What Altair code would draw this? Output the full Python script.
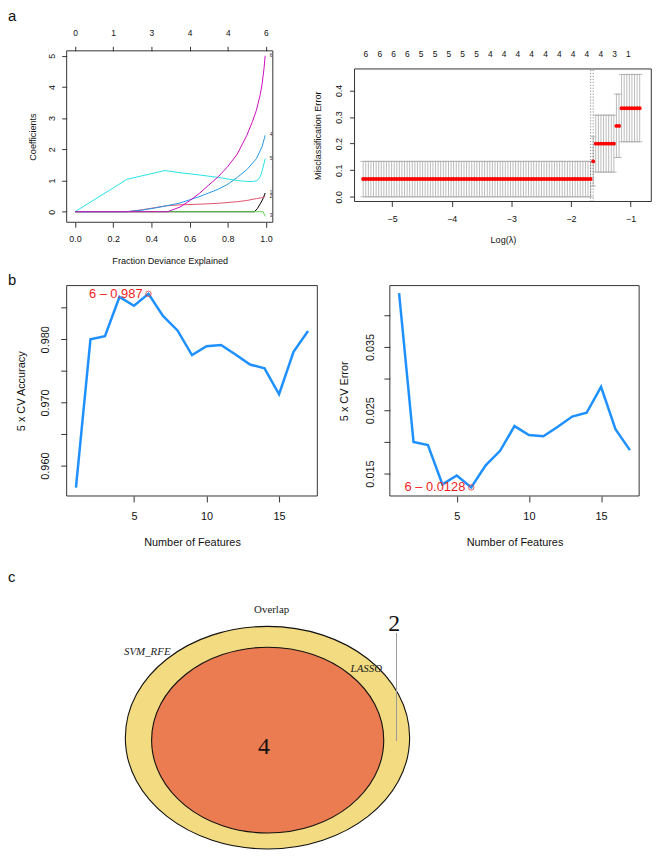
import json
import altair as alt
import pandas as pd

FONT = "Liberation Sans"
SERIF = "Liberation Serif"
W, H = 651, 847

# ---------------- panel a (left): LASSO coefficient paths ----------------
path_ids = ["1", "2", "3", "4", "5", "6"]
path_colors = ["#000000", "#DF536B", "#61D04F", "#2297E6", "#28E2E5", "#CD0BBC"]
path_x = [
    [0, 0.94, 0.955, 0.97, 0.985, 0.996],
    [0, 0.27, 0.35, 0.42, 0.48, 0.55, 0.65, 0.75, 0.85, 0.90, 0.95, 0.98, 0.996],
    [0, 0.985, 0.996],
    [0, 0.27, 0.35, 0.42, 0.48, 0.55, 0.60, 0.65, 0.70, 0.75, 0.80, 0.85, 0.90, 0.95, 0.98, 0.996],
    [0, 0.10, 0.20, 0.273, 0.35, 0.472, 0.55, 0.65, 0.75, 0.85, 0.90, 0.935, 0.955, 0.97, 0.98, 0.99, 0.996],
    [0, 0.485, 0.55, 0.60, 0.65, 0.70, 0.75, 0.80, 0.85, 0.90, 0.93, 0.95, 0.97, 0.98, 0.99, 0.996],
]
path_y = [
    [0, 0, 0.10, 0.25, 0.42, 0.60],
    [0, 0, 0.06, 0.13, 0.19, 0.22, 0.24, 0.27, 0.32, 0.36, 0.42, 0.45, 0.48],
    [0, 0, -0.15],
    [0, 0, 0.05, 0.12, 0.19, 0.28, 0.38, 0.48, 0.60, 0.72, 0.88, 1.10, 1.35, 1.70, 2.09, 2.45],
    [0, 0.38, 0.76, 1.04, 1.15, 1.32, 1.25, 1.18, 1.10, 1.00, 0.97, 0.97, 1.00, 1.12, 1.30, 1.55, 1.70],
    [0, 0, 0.15, 0.35, 0.58, 0.85, 1.12, 1.45, 1.85, 2.45, 2.90, 3.25, 3.75, 4.10, 4.60, 5.00],
]
a1_top_pos = [0.0, 0.2, 0.4, 0.6, 0.8, 1.0]
a1_top_lab = ["0", "1", "3", "4", "4", "6"]

# ---------------- panel a (right): cross-validated misclassification ----------------
cv_loglam = [
    -5.485, -5.442, -5.398, -5.355, -5.312, -5.268, -5.225, -5.182, -5.138, -5.095,
    -5.052, -5.008, -4.965, -4.921, -4.878, -4.835, -4.791, -4.748, -4.705, -4.661,
    -4.618, -4.575, -4.531, -4.488, -4.445, -4.401, -4.358, -4.315, -4.271, -4.228,
    -4.185, -4.141, -4.098, -4.054, -4.011, -3.968, -3.924, -3.881, -3.838, -3.794,
    -3.751, -3.708, -3.664, -3.621, -3.578, -3.534, -3.491, -3.448, -3.404, -3.361,
    -3.318, -3.274, -3.231, -3.187, -3.144, -3.101, -3.057, -3.014, -2.971, -2.927,
    -2.884, -2.841, -2.797, -2.754, -2.711, -2.667, -2.624, -2.581, -2.537, -2.494,
    -2.451, -2.407, -2.364, -2.320, -2.277, -2.234, -2.190, -2.147, -2.104, -2.060,
    -2.017, -1.974, -1.930, -1.887, -1.844, -1.800, -1.757, -1.714, -1.670, -1.627,
    -1.584, -1.540, -1.497, -1.453, -1.410, -1.367, -1.323, -1.280, -1.237, -1.193,
    -1.150, -1.107, -1.063, -1.020, -0.977, -0.933, -0.890, -0.847,
]
cv_err = [0.0667] * 89 + [0.1333] + [0.2] * 8 + [0.2667] * 2 + [0.3333] * 8
cv_up = [0.1333] * 89 + [0.226] + [0.307] * 8 + [0.386] * 2 + [0.46] * 8
cv_lo = [0.0] * 89 + [0.041] + [0.093] * 8 + [0.148] * 2 + [0.207] * 8
cv_lambda_lines = [-1.670, -1.627]
a2_top_pos = [-5.447, -5.215, -4.984, -4.752, -4.520, -4.289, -4.057, -3.825, -3.593, -3.362,
              -3.130, -2.898, -2.667, -2.435, -2.203, -1.972, -1.740, -1.508, -1.277, -1.045]
a2_top_lab = ["6", "6", "6", "6", "5", "5", "5", "5", "5", "4",
              "4", "4", "4", "4", "4", "4", "4", "4", "3", "1"]

# ---------------- panel b: SVM-RFE ----------------
n_features = [1, 2, 3, 4, 5, 6, 7, 8, 9, 10, 11, 12, 13, 14, 15, 16, 17]
cv_accuracy = [0.9565, 0.9800, 0.9805, 0.9867, 0.9853, 0.9872, 0.9837, 0.9814, 0.9775,
               0.9789, 0.9791, 0.9776, 0.9760, 0.9754, 0.9713, 0.9780, 0.9813]
cv_error = [0.0435, 0.0200, 0.0195, 0.0133, 0.0147, 0.0128, 0.0163, 0.0186, 0.0225,
            0.0211, 0.0209, 0.0224, 0.0240, 0.0246, 0.0287, 0.0220, 0.0187]

# ---------------- panel c: Venn ----------------
venn_sets = ["SVM_RFE", "LASSO"]
venn_set_sizes = [6, 4]
venn_overlap = 4
venn_only_svm = 2

layers = []


# ---------------- helpers ----------------
def make_axis(orient, offset, values, tick, pad, lsize, title="", tsize=9.0, tpos=0.0,
              fmt=None, expr=None):
    kw = dict(orient=orient, offset=offset, values=values, domain=False, grid=False,
              labelFont=FONT, labelFontSize=lsize, labelColor="#111", labelPadding=pad,
              labelFlush=False, labelOverlap=False, labelAlign="center",
              labelBaseline="middle", title=title, titleFont=FONT, titleFontSize=tsize,
              titleFontWeight="normal", titleColor="#111")
    if tick > 0:
        kw.update(ticks=True, tickSize=tick, tickColor="#333", tickWidth=1)
    else:
        kw.update(ticks=False, tickSize=0)
    if fmt:
        kw["format"] = fmt
    if expr:
        kw["labelExpr"] = expr
    if orient == "left":
        kw.update(labelAngle=270, titleAngle=270, titleX=tpos, titleAlign="center",
                  titleBaseline="middle")
    elif orient in ("bottom", "top") and title:
        kw.update(titleY=tpos, titleAlign="center", titleBaseline="middle")
    return alt.Axis(**kw)


def add_axis(channel, values, scale, axis):
    df = pd.DataFrame({"v": values})
    if channel == "x":
        enc = dict(x=alt.X("v:Q", scale=scale, axis=axis), y=alt.value(0))
    else:
        enc = dict(y=alt.Y("v:Q", scale=scale, axis=axis), x=alt.value(0))
    layers.append(alt.Chart(df).mark_point(opacity=0, size=1).encode(**enc))


def add_box(xd, yd, xs, ys):
    df = pd.DataFrame({"x0": [xd[0]], "x1": [xd[1]], "y0": [yd[0]], "y1": [yd[1]]})
    layers.append(alt.Chart(df).mark_rect(fillOpacity=0, stroke="#333", strokeWidth=1).encode(
        x=alt.X("x0:Q", scale=xs, axis=None), x2="x1:Q",
        y=alt.Y("y0:Q", scale=ys, axis=None), y2="y1:Q"))


def label_expr(positions, labels):
    return f"{json.dumps(labels)}[indexof({json.dumps(positions)}, datum.value)]"


def sc(domain, rng):
    return alt.Scale(domain=domain, range=rng, nice=False, zero=False)


# ---------------- panel a left ----------------
a1_xd, a1_yd = [-0.0435, 1.036], [-0.339, 5.159]
a1_xr, a1_yr = [59.3, 267.7], [212.0, 38.7]
add_box(a1_xd, a1_yd, sc(a1_xd, a1_xr), sc(a1_yd, a1_yr))
add_axis("x", [0, 0.2, 0.4, 0.6, 0.8, 1.0], sc(a1_xd, a1_xr),
         make_axis("bottom", 212.0 - H, [0, 0.2, 0.4, 0.6, 0.8, 1.0], 5, 11.7, 9,
                   "Fraction Deviance Explained", 9.2, 38.3, fmt=".1f"))
add_axis("y", [0, 1, 2, 3, 4, 5], sc(a1_yd, a1_yr),
         make_axis("left", -59.3, [0, 1, 2, 3, 4, 5], 5, 10.3, 9, "Coefficients", 9.2, -34,
                   fmt="d"))
add_axis("x", a1_top_pos, sc(a1_xd, a1_xr),
         make_axis("top", -38.7, a1_top_pos, 4.5, 13.9, 8.5,
                   expr=label_expr(a1_top_pos, a1_top_lab)))
for pid, col, xs_, ys_ in zip(path_ids, path_colors, path_x, path_y):
    df = pd.DataFrame({"frac": xs_, "coef": ys_})
    layers.append(alt.Chart(df).mark_line(color=col, strokeWidth=1).encode(
        x=alt.X("frac:Q", scale=sc(a1_xd, a1_xr), axis=None),
        y=alt.Y("coef:Q", scale=sc(a1_yd, a1_yr), axis=None)))
# tiny variable labels at the end of each path (glmnet label=TRUE)
end_df = pd.DataFrame({"frac": [p[-1] for p in path_x], "coef": [p[-1] for p in path_y],
                       "lab": path_ids})
layers.append(alt.Chart(end_df).mark_text(align="left", baseline="middle", dx=4.5, font=FONT,
                                          fontSize=4.5, color="#222").encode(
    x=alt.X("frac:Q", scale=sc(a1_xd, a1_xr), axis=None),
    y=alt.Y("coef:Q", scale=sc(a1_yd, a1_yr), axis=None), text="lab:N"))

# ---------------- panel a right ----------------
a2_xd, a2_yd = [-5.630, -0.652], [-0.0175, 0.4807]
a2_xr, a2_yr = [350.3, 650.3], [191.0, 57.0]
cv_df = pd.DataFrame({"lam": cv_loglam, "err": cv_err, "up": cv_up, "lo": cv_lo})
add_box(a2_xd, a2_yd, sc(a2_xd, a2_xr), sc(a2_yd, a2_yr))
add_axis("x", [-5, -4, -3, -2, -1], sc(a2_xd, a2_xr),
         make_axis("bottom", 191.0 - H, [-5, -4, -3, -2, -1], 5, 12.7, 9,
                   "Log(\u03bb)", 9.2, 38.3, fmt="d"))
add_axis("y", [0.0, 0.1, 0.2, 0.3, 0.4], sc(a2_yd, a2_yr),
         make_axis("left", -350.3, [0.0, 0.1, 0.2, 0.3, 0.4], 5, 11.6, 9,
                   "Misclassification Error", 9.2, -37.6, fmt=".1f"))
add_axis("x", a2_top_pos, sc(a2_xd, a2_xr),
         make_axis("top", -57.0, a2_top_pos, 0, 15.5, 8.5,
                   expr=label_expr(a2_top_pos, a2_top_lab)))
layers.append(alt.Chart(cv_df).mark_rule(color="#AAAAAA", strokeWidth=0.8).encode(
    x=alt.X("lam:Q", scale=sc(a2_xd, a2_xr), axis=None),
    y=alt.Y("lo:Q", scale=sc(a2_yd, a2_yr), axis=None), y2="up:Q"))
for fld in ["up", "lo"]:
    layers.append(alt.Chart(cv_df).transform_calculate(
        xl="datum.lam - 0.0464", xr="datum.lam + 0.0464").mark_rule(
        color="#AAAAAA", strokeWidth=0.8).encode(
        x=alt.X("xl:Q", scale=sc(a2_xd, a2_xr), axis=None), x2="xr:Q",
        y=alt.Y(f"{fld}:Q", scale=sc(a2_yd, a2_yr), axis=None)))
layers.append(alt.Chart(pd.DataFrame({"lam": cv_lambda_lines})).mark_rule(
    color="#555555", strokeWidth=0.8, strokeDash=[1, 2]).encode(
    x=alt.X("lam:Q", scale=sc(a2_xd, a2_xr), axis=None),
    y=alt.Y(datum=a2_yd[0], scale=sc(a2_yd, a2_yr), axis=None), y2=alt.Y2(datum=a2_yd[1])))
layers.append(alt.Chart(cv_df).mark_circle(color="#FF0000", size=16, opacity=1).encode(
    x=alt.X("lam:Q", scale=sc(a2_xd, a2_xr), axis=None),
    y=alt.Y("err:Q", scale=sc(a2_yd, a2_yr), axis=None)))


# ---------------- panel b ----------------
def rfe_panel(vals, yd, x0, x1, ylab_pad, ytitle, ytitle_pos, yvalues, yexpr, best_fmt, use_max):
    xd = [0.36, 17.64]
    xr, yr = [x0, x1], [488.7, 276.0]
    best_v = max(vals) if use_max else min(vals)
    best_n = n_features[vals.index(best_v)]
    df = pd.DataFrame({"n": n_features, "v": vals})
    bdf = pd.DataFrame({"n": [best_n], "v": [best_v],
                        "lab": [f"{best_n} \u2013 {format(best_v, best_fmt)}"]})
    add_box(xd, yd, sc(xd, xr), sc(yd, yr))
    add_axis("x", [5, 10, 15], sc(xd, xr),
             make_axis("bottom", 488.7 - H, [5, 10, 15], 6, 14.5, 11,
                       "Number of Features", 11, 46.6, fmt="d"))
    add_axis("y", yvalues, sc(yd, yr),
             make_axis("left", -x0, yvalues, 6, ylab_pad, 11, ytitle, 11, ytitle_pos,
                       expr=yexpr))
    layers.append(alt.Chart(df).mark_line(color="#1E90FF", strokeWidth=2.5).encode(
        x=alt.X("n:Q", scale=sc(xd, xr), axis=None),
        y=alt.Y("v:Q", scale=sc(yd, yr), axis=None)))
    layers.append(alt.Chart(bdf).mark_point(shape="circle", filled=False, color="#F03030",
                                            size=30, strokeWidth=0.8, opacity=1).encode(
        x=alt.X("n:Q", scale=sc(xd, xr), axis=None),
        y=alt.Y("v:Q", scale=sc(yd, yr), axis=None)))
    layers.append(alt.Chart(bdf).mark_text(align="right", baseline="middle", dx=-6, font=FONT,
                                           fontSize=13, color="#F01E1E").encode(
        x=alt.X("n:Q", scale=sc(xd, xr), axis=None),
        y=alt.Y("v:Q", scale=sc(yd, yr), axis=None), text="lab:N"))


rfe_panel(cv_accuracy, [0.95519, 0.98850], 59.3, 312.7, 15.1, "5 x CV Accuracy", -45.6,
          [0.960, 0.965, 0.970, 0.975, 0.980, 0.985],
          "round(datum.value*200) % 2 == 0 ? format(datum.value, '.3f') : ''", ".3f", True)
rfe_panel(cv_error, [0.01145, 0.0447], 386.0, 638.0, 13.3, "5 x CV Error", -45.7,
          [0.015, 0.020, 0.025, 0.030, 0.035, 0.040],
          "round(datum.value*200) % 2 == 1 ? format(datum.value, '.3f') : ''", ".4f", False)


# ---------------- panel c: Venn ----------------
def ellipse_path(r):
    k = 0.5523
    return (f"M 1 0 C 1 {k*r:.4f} {k:.4f} {r} 0 {r} C {-k:.4f} {r} -1 {k*r:.4f} -1 0 "
            f"C -1 {-k*r:.4f} {-k:.4f} {-r} 0 {-r} C {k:.4f} {-r} 1 {-k*r:.4f} 1 0 Z")


size_scale = alt.Scale(domain=[0, 6], range=[0, 82600], zero=True)
layers.append(alt.Chart(pd.DataFrame({"set": [venn_sets[0]], "size": [venn_set_sizes[0]]})).mark_point(
    shape=ellipse_path(0.783), filled=True, fill="#F3DB81", stroke="#111", strokeWidth=1.1,
    opacity=1).encode(x=alt.value(262.3), y=alt.value(733.0),
                      size=alt.Size("size:Q", scale=size_scale, legend=None)))
layers.append(alt.Chart(pd.DataFrame({"set": [venn_sets[1]], "size": [venn_set_sizes[1]]})).mark_point(
    shape=ellipse_path(0.800), filled=True, fill="#EB7B50", stroke="#111", strokeWidth=1.1,
    opacity=1).encode(x=alt.value(262.5), y=alt.value(735.5),
                      size=alt.Size("size:Q", scale=size_scale, legend=None)))
for txt, px, py, style in [(venn_sets[0], 140.8, 646, "italic"),
                           (venn_sets[1], 362.2, 664, "italic"),
                           ("Overlap", 266.5, 603.7, "normal")]:
    layers.append(alt.Chart(pd.DataFrame({"t": [txt]})).mark_text(
        font=SERIF, fontSize=11, fontStyle=style, color="#222", baseline="middle").encode(
        x=alt.value(px), y=alt.value(py), text="t:N"))
layers.append(alt.Chart(pd.DataFrame({"c": [venn_only_svm]})).mark_rule(
    color="#999999", strokeWidth=1).encode(
    x=alt.value(392.7), y=alt.value(627), y2=alt.value(736.3)))
for cnt, px, py in [(venn_overlap, 258.7, 742.3), (venn_only_svm, 390.5, 617.8)]:
    layers.append(alt.Chart(pd.DataFrame({"c": [cnt]})).mark_text(
        font=SERIF, fontSize=24, color="#111", baseline="middle").encode(
        x=alt.value(px), y=alt.value(py), text="c:Q"))

# ---------------- panel letters ----------------
for lab, yy in zip(["a", "b", "c"], [9, 275, 576]):
    layers.append(alt.Chart(pd.DataFrame({"t": [lab]})).mark_text(
        font=FONT, fontSize=15, color="#111", align="left", baseline="alphabetic").encode(
        x=alt.value(0), y=alt.value(yy), text="t:N"))

chart = alt.layer(*layers).resolve_scale(
    x="independent", y="independent").properties(
    width=W, height=H, padding=0,
    autosize=alt.AutoSizeParams(type="none")).configure_view(stroke=None)

chart.save("out.html", embed_options={"renderer": "svg", "actions": False})
